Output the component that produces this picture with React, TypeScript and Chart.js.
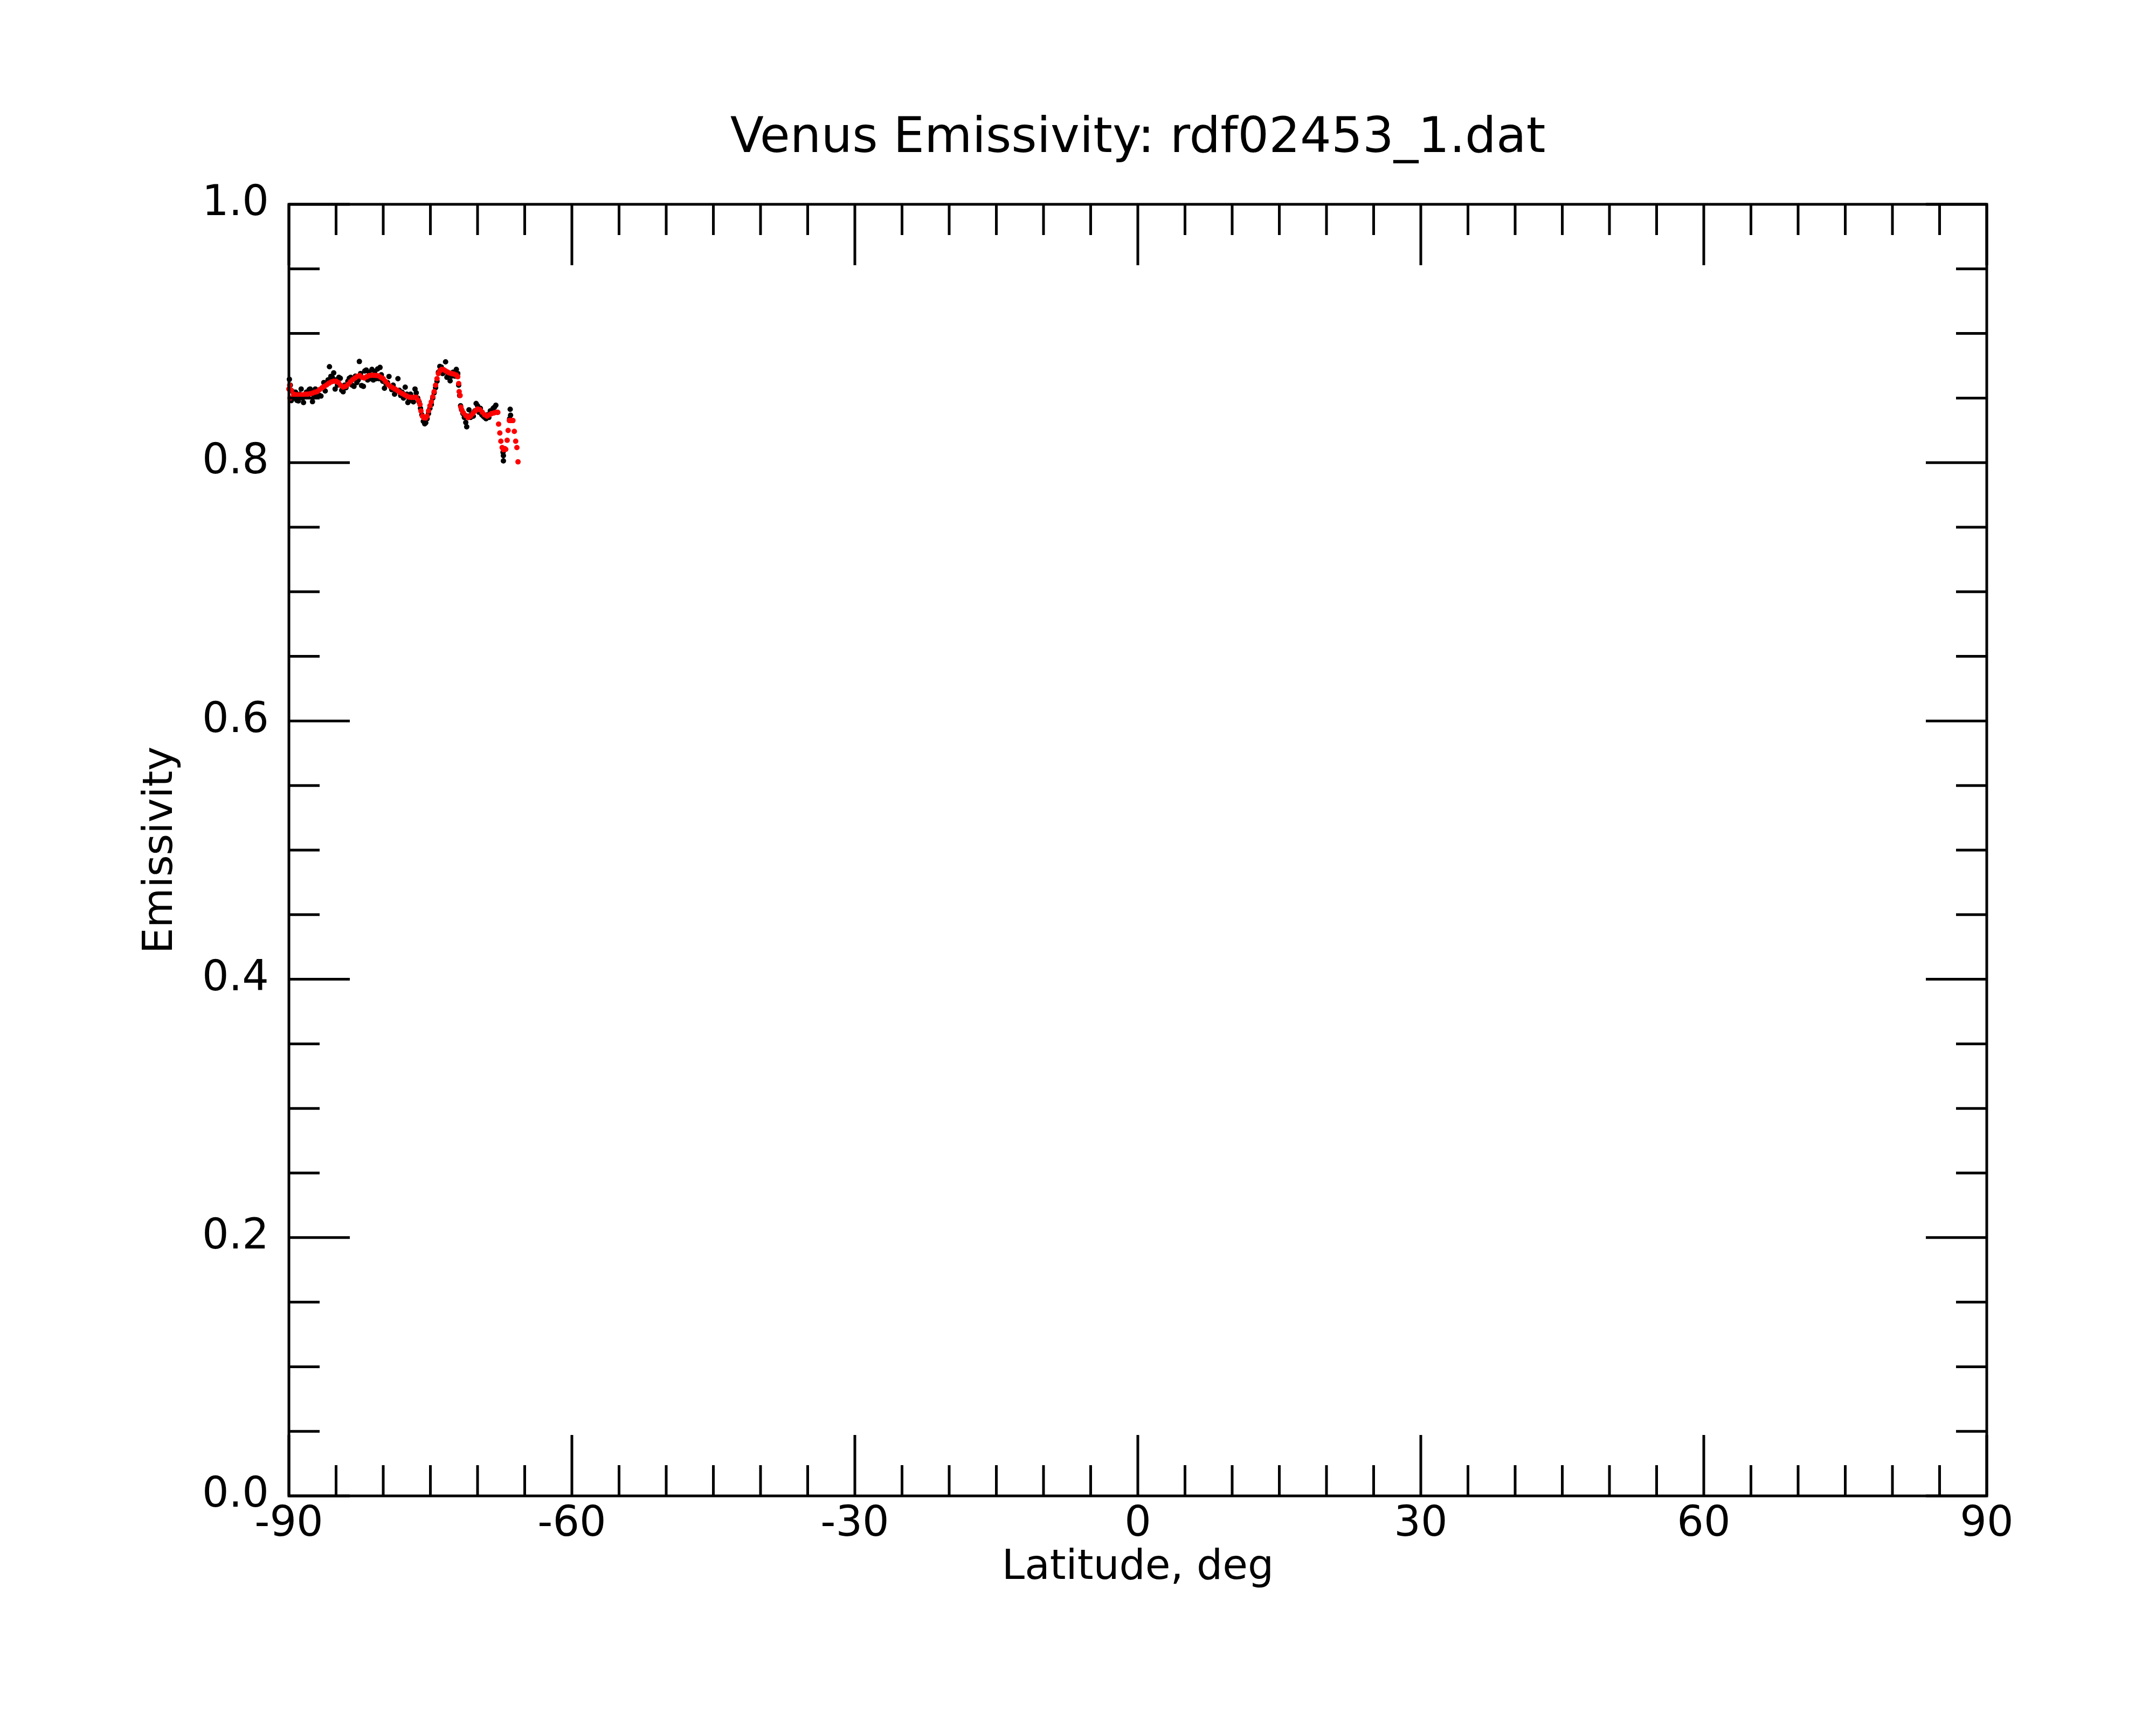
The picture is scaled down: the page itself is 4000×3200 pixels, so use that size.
import React, { useEffect, useRef } from "react";
import { Chart, registerables } from "chart.js";

Chart.register(...registerables);

const TITLE = "Venus Emissivity: rdf02453_1.dat";
const X_TITLE = "Latitude, deg";
const Y_TITLE = "Emissivity";
const FONT = "'DejaVu Sans', sans-serif";

// Smoothed emissivity (red)
const redLat = [
  -90.0, -89.92, -89.88, -89.75, -89.5, -89.25, -89.0, -88.75, -88.5, -88.25, -88.0, -87.75, -87.5, -87.25, -87.0,
  -86.75, -86.5, -86.25, -86.0, -85.75, -85.5, -85.25, -85.0, -84.75, -84.5, -84.25, -84.0, -83.75, -83.5, -83.25,
  -83.0, -82.75, -82.5, -82.25, -82.0, -81.75, -81.5, -81.25, -81.0, -80.75, -80.5, -80.25, -80.0, -79.75, -79.5,
  -79.25, -79.0, -78.75, -78.5, -78.25, -78.0, -77.75, -77.5, -77.25, -77.0, -76.75, -76.5, -76.25, -76.1, -76.0,
  -75.85, -75.7, -75.5, -75.35, -75.2, -75.05, -74.9, -74.75, -74.6, -74.45, -74.3, -74.15, -74.0, -73.8, -73.6,
  -73.4, -73.2, -73.0, -72.75, -72.5, -72.25, -72.1, -72.0, -71.95, -71.85, -71.77, -71.65, -71.5, -71.25, -71.0,
  -70.75, -70.5, -70.25, -70.0, -69.75, -69.5, -69.25, -69.0, -68.75, -68.5, -68.25, -68.0, -67.85,
  -67.77, -67.64, -67.53, -67.39, -67.25, -67.12, -67.01, -66.86, -66.76, -66.63, -66.45, -66.25, -66.1, -65.96,
  -65.83, -65.71,
];
const redVal = [
  0.857, 0.86, 0.85, 0.856, 0.853, 0.8525, 0.8525, 0.8525, 0.8525, 0.853, 0.853, 0.8533, 0.8538, 0.8545, 0.855,
  0.8565, 0.8578, 0.859, 0.8602, 0.8615, 0.8625, 0.863, 0.863, 0.862, 0.8598, 0.8585, 0.859, 0.8605, 0.8625, 0.8642,
  0.8655, 0.8668, 0.8674, 0.866, 0.8655, 0.8665, 0.8674, 0.8676, 0.8676, 0.8675, 0.8672, 0.866, 0.865, 0.8628, 0.8605,
  0.859, 0.858, 0.857, 0.8558, 0.8545, 0.8535, 0.8525, 0.8515, 0.8507, 0.8505, 0.8505, 0.8506, 0.848, 0.845, 0.84,
  0.836, 0.8347, 0.8345, 0.836, 0.84, 0.844, 0.847, 0.851, 0.855, 0.86, 0.865, 0.869, 0.8712, 0.8722, 0.872,
  0.871, 0.8702, 0.8695, 0.869, 0.8685, 0.8678, 0.8665, 0.8612, 0.855, 0.852, 0.843, 0.8405, 0.8385, 0.8365, 0.8348,
  0.836, 0.838, 0.84, 0.8415, 0.841, 0.839, 0.837, 0.836, 0.837, 0.838, 0.8385, 0.839, 0.8389,
  0.8298, 0.8229, 0.8166, 0.8117, 0.81, 0.8108, 0.8103, 0.8173, 0.8249, 0.8326, 0.8326, 0.8326, 0.8242, 0.8166,
  0.8117, 0.8006,
];

// Raw emissivity (black)
const blackLat = [
  -89.95, -89.85, -89.75, -89.6, -89.45, -89.3, -89.15, -89.0, -88.85, -88.7, -88.55, -88.45, -88.3, -88.15, -88.0,
  -87.85, -87.75, -87.6, -87.5, -87.35, -87.2, -87.05, -86.9, -86.75, -86.6, -86.45, -86.3, -86.15, -86.0, -85.85,
  -85.7, -85.55, -85.4, -85.25, -85.1, -85.0, -84.85, -84.7, -84.55, -84.4, -84.25, -84.1, -83.95, -83.75, -83.6,
  -83.45, -83.3, -83.1, -82.95, -82.8, -82.65, -82.53, -82.4, -82.3, -82.1, -81.96, -81.8, -81.65, -81.5, -81.35,
  -81.2, -81.05, -80.9, -80.75, -80.6, -80.45, -80.34, -80.2, -80.05, -79.87, -79.7, -79.55, -79.39, -79.25, -79.1,
  -78.95, -78.8, -78.65, -78.44, -78.3, -78.15, -78.0, -77.85, -77.67, -77.5, -77.39, -77.25, -77.1, -76.95, -76.8,
  -76.63, -76.5, -76.35, -76.2, -76.05, -75.9, -75.75, -75.6, -75.49, -75.35, -75.2, -75.05, -74.9, -74.75, -74.6,
  -74.45, -74.3, -74.15, -74.0, -73.85, -73.7, -73.55, -73.39, -73.25, -73.1, -72.91, -72.75, -72.6, -72.4, -72.25,
  -72.1, -72.0, -71.9, -71.8, -71.7, -71.55, -71.4, -71.25, -71.15, -71.0, -70.91, -70.75, -70.6, -70.45, -70.3,
  -70.15, -70.0, -69.85, -69.7, -69.55, -69.4, -69.25, -69.1, -68.95, -68.8, -68.65, -68.5, -68.35, -68.2, -68.06,
  -67.9, -67.3, -67.26, -67.26, -66.6, -66.54, -66.5,
];
const blackVal = [
  0.8645, 0.86, 0.848, 0.855, 0.85, 0.8545, 0.8482, 0.8478, 0.853, 0.857, 0.85, 0.8465, 0.852, 0.8545, 0.851,
  0.8565, 0.857, 0.8545, 0.8472, 0.852, 0.857, 0.853, 0.856, 0.852, 0.8515, 0.858, 0.862, 0.8555, 0.861, 0.864,
  0.8743, 0.8668, 0.866, 0.8695, 0.857, 0.864, 0.86, 0.866, 0.8653, 0.856, 0.8549, 0.86, 0.858, 0.863, 0.8653,
  0.866, 0.86, 0.859, 0.867, 0.862, 0.864, 0.8783, 0.869, 0.8597, 0.859, 0.8709, 0.8717, 0.864, 0.87, 0.865,
  0.8722, 0.864, 0.8705, 0.865, 0.8725, 0.865, 0.8737, 0.868, 0.863, 0.8576, 0.861, 0.862, 0.8667, 0.859, 0.8565,
  0.86, 0.853, 0.856, 0.865, 0.856, 0.852, 0.8545, 0.85, 0.8584, 0.853, 0.8465, 0.849, 0.853, 0.848, 0.847,
  0.857, 0.854, 0.85, 0.847, 0.842, 0.837, 0.832, 0.83, 0.8309, 0.834, 0.838, 0.842, 0.845, 0.85, 0.854,
  0.858, 0.863, 0.87, 0.8745, 0.874, 0.869, 0.87, 0.878, 0.866, 0.868, 0.8633, 0.867, 0.87, 0.867, 0.8722,
  0.869, 0.86, 0.852, 0.844, 0.841, 0.838, 0.835, 0.8311, 0.8277, 0.836, 0.8409, 0.835, 0.838, 0.836, 0.84,
  0.8458, 0.844, 0.839, 0.842, 0.837, 0.836, 0.835, 0.834, 0.837, 0.835, 0.84, 0.839, 0.842, 0.843, 0.8444,
  0.839, 0.808, 0.8054, 0.8013, 0.834, 0.8413, 0.8367,
];

const X_TICK_STEP = 30;
const X_MINOR_STEP = 5;
const Y_TICK_STEP = 0.2;
const Y_MINOR_STEP = 0.05;

const framePlugin = {
  id: "frameTicks",
  afterDraw(chart: any) {
    const { ctx, chartArea, scales } = chart;
    const { left, right, top, bottom } = chartArea;
    const xs = scales.x;
    const ys = scales.y;
    const MAJOR = 113;
    const MINOR = 57;
    ctx.save();
    ctx.strokeStyle = "#000";
    ctx.lineWidth = 5;
    ctx.lineCap = "butt";
    ctx.beginPath();
    const nx = Math.round((xs.max - xs.min) / X_MINOR_STEP);
    const xRatio = Math.round(X_TICK_STEP / X_MINOR_STEP);
    for (let i = 0; i <= nx; i++) {
      const v = xs.min + i * X_MINOR_STEP;
      const px = xs.getPixelForValue(v);
      const len = i % xRatio === 0 ? MAJOR : MINOR;
      ctx.moveTo(px, bottom);
      ctx.lineTo(px, bottom - len);
      ctx.moveTo(px, top);
      ctx.lineTo(px, top + len);
    }
    const ny = Math.round((ys.max - ys.min) / Y_MINOR_STEP);
    const yRatio = Math.round(Y_TICK_STEP / Y_MINOR_STEP);
    for (let i = 0; i <= ny; i++) {
      const v = ys.min + i * Y_MINOR_STEP;
      const py = ys.getPixelForValue(v);
      const len = i % yRatio === 0 ? MAJOR : MINOR;
      ctx.moveTo(left, py);
      ctx.lineTo(left + len, py);
      ctx.moveTo(right, py);
      ctx.lineTo(right - len, py);
    }
    ctx.stroke();
    ctx.strokeRect(left, top, right - left, bottom - top);

    // chart title, centred over the plot frame
    ctx.fillStyle = "#000";
    ctx.font = `normal 91px ${FONT}`;
    ctx.textAlign = "center";
    ctx.textBaseline = "alphabetic";
    ctx.fillText(TITLE, (left + right) / 2, top - 97);
    ctx.restore();
  },
};

export default function App() {
  const ref = useRef<HTMLCanvasElement | null>(null);

  useEffect(() => {
    document.body.style.margin = "0";
    const canvas = ref.current;
    if (!canvas) return;
    const red = redLat.map((x, i) => ({ x, y: redVal[i] }));
    const black = blackLat.map((x, i) => ({ x, y: blackVal[i] }));
    const chart = new Chart(canvas, {
      type: "scatter",
      data: {
        datasets: [
          {
            label: "smoothed",
            data: red,
            backgroundColor: "#ff0000",
            borderWidth: 0,
            pointRadius: 5,
            pointHoverRadius: 5,
            showLine: false,
            clip: false,
          } as any,
          {
            label: "raw",
            data: black,
            backgroundColor: "#000000",
            borderWidth: 0,
            pointRadius: 5,
            pointHoverRadius: 5,
            showLine: false,
            clip: false,
          } as any,
        ],
      },
      options: {
        responsive: false,
        animation: false,
        devicePixelRatio: 1,
        events: [],
        layout: { padding: { left: 0, right: 314, top: 379, bottom: 0 } },
        plugins: {
          legend: { display: false },
          tooltip: { enabled: false },
          title: { display: false },
        },
        scales: {
          x: {
            type: "linear",
            min: -90,
            max: 90,
            grid: { display: false, drawTicks: false },
            border: { display: false },
            ticks: {
              stepSize: X_TICK_STEP,
              color: "#000",
              font: { family: FONT, size: 78 },
              padding: 7,
              maxRotation: 0,
              autoSkip: false,
            },
            title: {
              display: true,
              text: X_TITLE,
              color: "#000",
              font: { family: FONT, size: 76 },
              padding: { top: 0, bottom: 245 },
            },
            afterFit: (s: any) => {
              s.height = 425;
            },
          },
          y: {
            type: "linear",
            min: 0,
            max: 1,
            grid: { display: false, drawTicks: false },
            border: { display: false },
            ticks: {
              stepSize: Y_TICK_STEP,
              color: "#000",
              font: { family: FONT, size: 78 },
              padding: 37,
              callback: (v: any) => Number(v).toFixed(1),
            },
            title: {
              display: true,
              text: Y_TITLE,
              color: "#000",
              font: { family: FONT, size: 76 },
              padding: { top: 254, bottom: 0 },
            },
            afterFit: (s: any) => {
              s.width = 536;
            },
          },
        },
      } as any,
      plugins: [framePlugin],
    });
    return () => chart.destroy();
  }, []);

  return (
    <div style={{ width: 4000, height: 3200, background: "#fff" }}>
      <canvas ref={ref} width={4000} height={3200} style={{ width: 4000, height: 3200, display: "block" }} />
    </div>
  );
}
